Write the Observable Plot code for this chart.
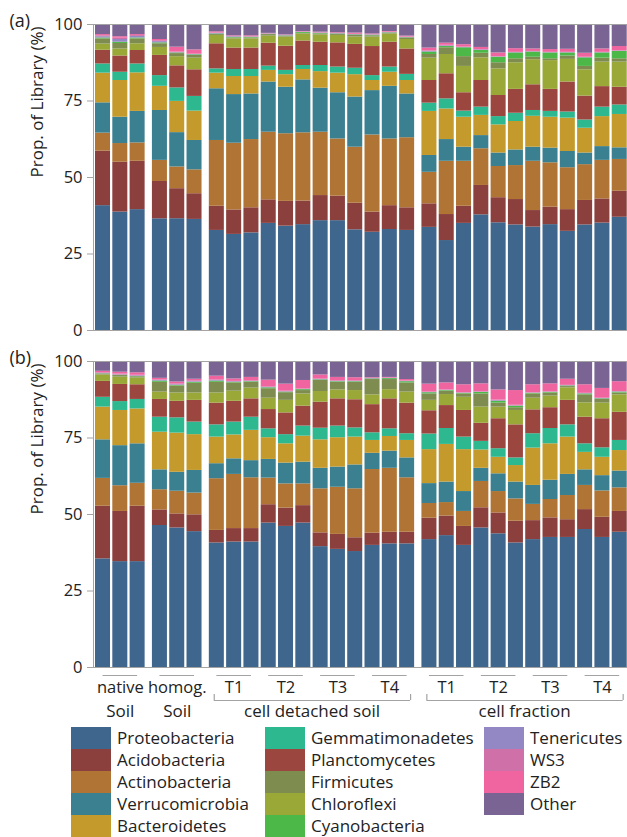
<!DOCTYPE html>
<html><head><meta charset="utf-8">
<script src="https://cdn.jsdelivr.net/npm/d3@7"></script>
<script src="https://cdn.jsdelivr.net/npm/@observablehq/plot@0.6"></script>
<style>
body{margin:0;background:#fff;font-family:"Open Sans",sans-serif;color:#222;}
#wrap{width:627px;}
svg{display:block;}
.legend{position:relative;height:115px;width:627px;}
.item{position:absolute;display:flex;align-items:center;height:22px;font-size:17px;white-space:nowrap;line-height:22px;}
.sw{width:40px;height:22px;margin-right:6px;flex:none;}
</style></head><body>
<div id="wrap"><div id="pa"></div><div id="pb"></div><div class="legend" id="leg"></div></div>
<script>
// ---- categories ----
const stackOrder = ["Proteobacteria","Acidobacteria","Actinobacteria","Verrucomicrobia","Bacteroidetes","Gemmatimonadetes","Planctomycetes","Chloroflexi","Firmicutes","Cyanobacteria","Tenericutes","WS3","ZB2","Other"];
const legendOrder = ["Proteobacteria","Acidobacteria","Actinobacteria","Verrucomicrobia","Bacteroidetes","Gemmatimonadetes","Planctomycetes","Firmicutes","Chloroflexi","Cyanobacteria","Tenericutes","WS3","ZB2","Other"];
const legendColors = ["#3f668c","#8c403e","#b07434","#3a8090","#c49a2c","#2db890","#9c4640","#7e8c50","#9aa838","#4cb848","#9488c4","#d070a8","#f064a0","#7a6494"];
const subgroupLabels = ["native","homog.","T1","T2","T3","T4","T1","T2","T3","T4"];
const subgroupGroup = [0,1,2,2,2,2,3,3,3,3];
const groupLabels = ["Soil","Soil","cell detached soil","cell fraction"];
const bracketGroups = [2,3];
const yTicks = [0,0.25,0.5,0.75,1];

// ---- panel (a) values (%), 30 samples ----
const a_Proteobacteria = [40.8,38.7,39.5,36.5,36.5,36.3,32.7,31.4,31.9,35.0,34.1,34.6,35.9,35.9,32.9,32.1,33.0,32.7,33.7,29.4,35.0,37.8,35.2,34.5,33.8,34.6,32.4,34.5,35.1,37.0];
const a_Acidobacteria = [17.8,16.3,15.8,12.2,9.8,8.4,7.9,8.0,8.2,7.7,8.1,7.7,8.2,8.0,8.7,6.6,7.8,7.4,7.7,8.5,5.6,9.6,8.2,8.3,5.4,5.7,7.1,8.0,7.9,8.5];
const a_Actinobacteria = [5.9,6.1,6.0,6.9,7.1,7.8,21.5,21.8,22.3,22.1,22.1,22.3,20.7,18.7,18.3,25.2,21.8,22.9,10.3,17.4,14.7,12.0,10.2,11.1,16.1,14.5,13.7,11.7,12.6,10.4];
const a_Verrucomicrobia = [9.9,8.6,10.3,16.3,11.2,9.6,16.9,15.9,14.9,16.4,15.2,17.3,14.4,15.1,16.4,14.5,17.2,14.3,5.5,7.1,4.6,4.3,4.4,5.1,4.6,4.8,5.3,3.8,4.5,3.8];
const a_Bacteroidetes = [9.7,12.0,12.6,7.9,10.2,9.6,5.1,5.9,5.7,3.8,4.1,3.4,5.4,6.4,7.3,3.3,4.6,4.4,14.4,10.0,9.8,6.6,9.2,9.3,10.1,10.1,10.9,8.1,9.8,10.9];
const a_Gemmatimonadetes = [3.0,2.7,2.9,3.5,4.4,4.8,1.4,2.3,2.3,1.4,1.4,1.3,2.0,2.0,2.1,1.6,1.7,2.0,2.7,3.3,2.0,2.7,2.7,2.7,1.9,1.9,2.0,2.7,3.1,3.1];
const a_Planctomycetes = [4.5,5.3,4.4,6.6,7.2,8.7,8.2,7.0,7.0,7.5,7.9,8.0,7.6,7.9,7.8,9.5,8.1,8.3,7.4,8.2,6.0,8.7,6.9,7.8,8.4,7.2,9.8,7.8,6.7,5.8];
const a_Chloroflexi = [2.0,2.3,2.2,2.6,3.0,3.8,2.7,3.0,3.0,2.3,3.0,2.3,2.4,2.4,2.4,3.1,2.7,3.1,7.3,6.3,8.6,7.4,8.7,8.7,8.2,9.4,7.4,8.6,8.0,8.2];
const a_Firmicutes = [1.7,1.8,1.6,1.2,1.0,0.9,0.3,0.3,0.3,0.5,0.3,0.2,0.3,0.3,0.5,0.4,0.3,0.5,1.2,2.2,3.2,1.5,2.0,1.3,0.8,0.6,1.1,1.1,1.3,1.1];
const a_Cyanobacteria = [0.3,0.4,0.3,0.3,0.2,0.2,0.2,0.2,0.2,0.1,0.1,0.3,0.2,0.2,0.2,0.2,0.1,0.1,0.8,0.4,2.9,0.9,1.8,1.9,1.7,1.9,1.0,2.8,1.7,2.4];
const a_Tenericutes = [0.4,0.9,0.5,0.4,0.1,0.1,0.2,0.2,0.1,0.1,0.1,0.1,0.1,0.1,0.1,0.1,0.1,0.1,0.2,0.2,0.1,0.2,0.1,0.1,0.1,0.1,0.1,0.1,0.1,0.1];
const a_WS3 = [0.3,0.4,0.3,0.3,0.2,0.1,0.1,0.1,0.1,0.1,0.1,0.1,0.1,0.1,0.1,0.1,0.1,0.1,0.2,0.2,0.1,0.1,0.1,0.1,0.1,0.1,0.1,0.1,0.1,0.1];
const a_ZB2 = [0.4,0.5,0.3,0.4,1.6,1.4,0.4,0.2,0.3,0.1,0.1,0.1,0.2,0.2,0.4,0.2,0.2,0.3,0.9,0.7,0.8,0.7,1.2,1.2,0.8,0.9,1.0,1.3,1.1,1.4];
const a_Other = [3.3,4.0,3.3,4.9,7.4,8.3,2.4,3.7,3.7,2.9,3.4,2.3,2.5,2.7,2.8,3.1,2.3,3.8,7.7,6.1,6.6,7.5,9.3,7.9,8.0,8.2,8.1,9.4,8.0,7.2];

// ---- panel (b) values (%), 30 samples ----
const b_Proteobacteria = [35.5,34.6,34.6,46.4,45.6,44.4,40.7,41.0,41.0,47.2,46.1,47.2,39.5,38.6,37.9,39.9,40.4,40.4,41.8,43.1,39.9,45.6,43.7,40.7,41.8,42.5,42.5,45.1,42.5,44.2];
const b_Acidobacteria = [17.2,16.4,18.1,5.1,4.6,5.5,4.1,4.4,4.4,6.0,6.0,5.7,4.5,4.9,4.5,4.0,3.8,3.8,7.0,6.4,6.2,6.6,6.8,7.1,6.2,6.4,5.8,6.5,6.6,6.8];
const b_Actinobacteria = [9.1,8.4,7.5,6.6,7.4,7.1,16.9,17.7,16.6,8.7,7.9,7.1,14.4,15.4,16.0,20.8,20.9,17.8,4.8,4.4,4.9,8.6,7.0,7.3,5.3,6.0,7.9,7.9,8.6,7.7];
const b_Verrucomicrobia = [12.6,13.1,12.9,6.5,6.2,7.4,4.9,5.1,5.6,6.1,6.8,7.1,6.7,6.6,7.8,5.3,5.6,6.5,6.5,6.7,6.5,4.3,5.8,5.5,6.2,6.3,6.9,5.1,5.0,5.5];
const b_Bacteroidetes = [10.7,11.5,11.4,12.3,12.8,11.7,8.7,7.8,9.9,7.1,6.3,8.5,9.3,9.6,9.1,4.2,4.8,5.7,11.1,12.3,13.7,6.0,5.4,5.4,12.2,11.9,12.2,5.7,6.0,6.7];
const b_Gemmatimonadetes = [3.2,2.9,3.1,4.9,5.0,4.1,4.0,4.2,4.3,2.9,3.0,3.3,3.8,3.8,3.0,2.5,2.5,2.2,5.1,5.2,4.1,2.8,2.8,2.5,4.7,5.0,4.0,2.8,3.1,3.3];
const b_Planctomycetes = [5.2,5.6,4.8,5.8,5.4,7.1,7.1,6.8,6.0,6.3,7.1,6.5,8.5,8.9,9.2,9.2,9.8,10.0,7.6,7.5,8.7,5.9,9.8,10.8,7.8,6.8,8.0,8.7,9.5,9.2];
const b_Chloroflexi = [2.1,2.4,2.2,2.4,2.7,2.4,3.3,3.3,3.5,3.7,4.1,4.0,3.5,2.9,3.0,3.2,3.0,3.6,3.4,3.6,4.3,5.3,3.8,4.7,3.8,3.8,4.1,4.7,5.1,5.7];
const b_Firmicutes = [0.3,0.5,0.4,3.2,2.3,3.2,3.5,2.7,1.9,3.1,2.5,1.1,3.6,2.5,2.7,5.0,3.3,3.0,2.1,1.1,1.1,4.3,1.3,0.9,1.4,1.0,0.4,2.6,1.2,0.6];
const b_Cyanobacteria = [0.1,0.1,0.1,0.4,0.2,0.3,0.4,0.2,0.2,0.3,0.2,0.3,0.2,0.2,0.2,0.2,0.3,0.4,0.4,0.2,0.2,0.5,0.6,0.5,0.2,0.2,0.2,0.3,0.2,0.3];
const b_Tenericutes = [0.1,0.1,0.2,0.2,0.2,0.2,0.2,0.2,0.1,0.1,0.1,0.1,0.1,0.1,0.1,0.1,0.1,0.1,0.1,0.1,0.1,0.1,0.2,0.1,0.1,0.1,0.1,0.1,0.1,0.1];
const b_WS3 = [0.2,0.3,0.2,0.2,0.3,0.3,0.2,0.1,0.2,0.2,0.2,0.1,0.2,0.2,0.2,0.1,0.1,0.1,0.1,0.1,0.1,0.1,0.2,0.2,0.1,0.1,0.1,0.1,0.1,0.1];
const b_ZB2 = [0.5,0.6,0.8,0.5,0.6,0.5,1.2,0.8,1.1,2.2,2.3,2.8,1.3,1.1,1.0,0.2,0.2,0.5,2.6,2.3,2.6,2.6,3.3,4.8,2.6,2.6,2.0,2.8,3.2,3.2];
const b_Other = [3.2,3.5,3.7,5.5,6.7,5.8,4.8,5.7,5.2,6.1,7.4,6.2,4.4,5.2,5.3,5.3,5.2,5.9,7.4,7.0,7.6,7.3,9.3,9.5,7.6,7.3,5.8,7.6,8.8,6.6];

const seriesA = {Proteobacteria:a_Proteobacteria,Acidobacteria:a_Acidobacteria,Actinobacteria:a_Actinobacteria,Verrucomicrobia:a_Verrucomicrobia,Bacteroidetes:a_Bacteroidetes,Gemmatimonadetes:a_Gemmatimonadetes,Planctomycetes:a_Planctomycetes,Chloroflexi:a_Chloroflexi,Firmicutes:a_Firmicutes,Cyanobacteria:a_Cyanobacteria,Tenericutes:a_Tenericutes,WS3:a_WS3,ZB2:a_ZB2,Other:a_Other};
const seriesB = {Proteobacteria:b_Proteobacteria,Acidobacteria:b_Acidobacteria,Actinobacteria:b_Actinobacteria,Verrucomicrobia:b_Verrucomicrobia,Bacteroidetes:b_Bacteroidetes,Gemmatimonadetes:b_Gemmatimonadetes,Planctomycetes:b_Planctomycetes,Chloroflexi:b_Chloroflexi,Firmicutes:b_Firmicutes,Cyanobacteria:b_Cyanobacteria,Tenericutes:b_Tenericutes,WS3:b_WS3,ZB2:b_ZB2,Other:b_Other};

// ---- layout of samples along x (index + extra gap between groups) ----
const groupGap = 0.29, halfBar = 0.434;
const samples = [];
subgroupLabels.forEach((lab, k) => {
  for (let r = 0; r < 3; r++) {
    const i = 3 * k + r;
    samples.push({i, sub: k, group: subgroupGroup[k], pos: i + groupGap * subgroupGroup[k]});
  }
});
const subInfo = subgroupLabels.map((label, k) => {
  const s = samples.filter(d => d.sub === k);
  return {label, x1: s[0].pos, x2: s[s.length - 1].pos, xm: s[1].pos};
});
const groupInfo = groupLabels.map((label, g) => {
  const s = samples.filter(d => d.group === g);
  return {label, g, x1: s[0].pos, x2: s[s.length - 1].pos, xm: (s[0].pos + s[s.length - 1].pos) / 2};
});
const brackets = groupInfo.filter(d => bracketGroups.includes(d.g)).map(d => ({...d, b1: d.x1 - 0.15, b2: d.x2 + 0.2}));
const bracketEnds = brackets.flatMap(d => [d.b1, d.b2]);

const W = 627, ML = 93, MR = 0;
const xDomain = [-0.55, 30.32];
const textColor = "#222", lineColor = "#a3a3a3";

function panel(series, tag, withAnnot) {
  const rows = [];
  stackOrder.forEach(p => series[p].forEach((v, i) => rows.push({pos: samples[i].pos, phylum: p, value: v})));
  const marks = [
    Plot.rectY(rows, {x1: d => d.pos - halfBar, x2: d => d.pos + halfBar, y: "value", fill: "phylum", order: stackOrder, offset: "normalize"}),
    Plot.frame({stroke: lineColor}),
    Plot.axisY(yTicks, {tickFormat: d => Math.round(d * 100), tickSize: 6, tickPadding: 5, stroke: lineColor, fill: textColor, fontSize: 16.5, label: null}),
    Plot.text([tag], {frameAnchor: "top-left", textAnchor: "start", lineAnchor: "middle", dx: -84, dy: -3, fontSize: 18, fill: textColor}),
    Plot.text(["Prop. of Library (%)"], {frameAnchor: "left", rotate: -90, dx: -56, fontSize: 17, fill: textColor})
  ];
  if (withAnnot) {
    marks.push(
      Plot.ruleY(subInfo, {y: 0, x1: "x1", x2: "x2", dy: 8, stroke: lineColor, strokeWidth: 1.2}),
      Plot.text(subInfo, {x: "xm", y: 0, text: "label", dy: 20, fontSize: 16.5, fill: textColor}),
      Plot.text(groupInfo, {x: "xm", y: 0, text: "label", dy: 44, fontSize: 17, fill: textColor}),
      Plot.ruleY(brackets, {y: 0, x1: "b1", x2: "b2", dy: 33, stroke: lineColor, strokeWidth: 1.2}),
      Plot.ruleX(bracketEnds, {x: d => d, y1: 0, y2: 0, insetTop: 27, insetBottom: -33, stroke: lineColor, strokeWidth: 1.2})
    );
  }
  return Plot.plot({
    width: W,
    height: withAnnot ? 386 : 336,
    marginLeft: ML, marginRight: MR,
    marginTop: withAnnot ? 25 : 24,
    marginBottom: withAnnot ? 55 : 6,
    style: {fontFamily: "'Open Sans', sans-serif", fontSize: "16px", background: "#fff", overflow: "visible"},
    x: {domain: xDomain, axis: null},
    y: {domain: [0, 1], axis: null},
    color: {domain: legendOrder, range: legendColors},
    marks
  });
}

document.getElementById("pa").appendChild(panel(seriesA, "(a)", false));
document.getElementById("pb").appendChild(panel(seriesB, "(b)", true));

// ---- legend ----
const legendCols = [[0,1,2,3,4],[5,6,7,8,9],[10,11,12,13]];
const colLeft = [71, 265, 484];
const leg = document.getElementById("leg");
legendCols.forEach((col, c) => col.forEach((idx, r) => {
  const it = document.createElement("div");
  it.className = "item";
  it.style.left = colLeft[c] + "px";
  it.style.top = (5 + r * 22) + "px";
  const sw = document.createElement("div");
  sw.className = "sw";
  sw.style.background = legendColors[idx];
  const tx = document.createElement("span");
  tx.textContent = legendOrder[idx];
  it.appendChild(sw); it.appendChild(tx);
  leg.appendChild(it);
}));
</script></body></html>
